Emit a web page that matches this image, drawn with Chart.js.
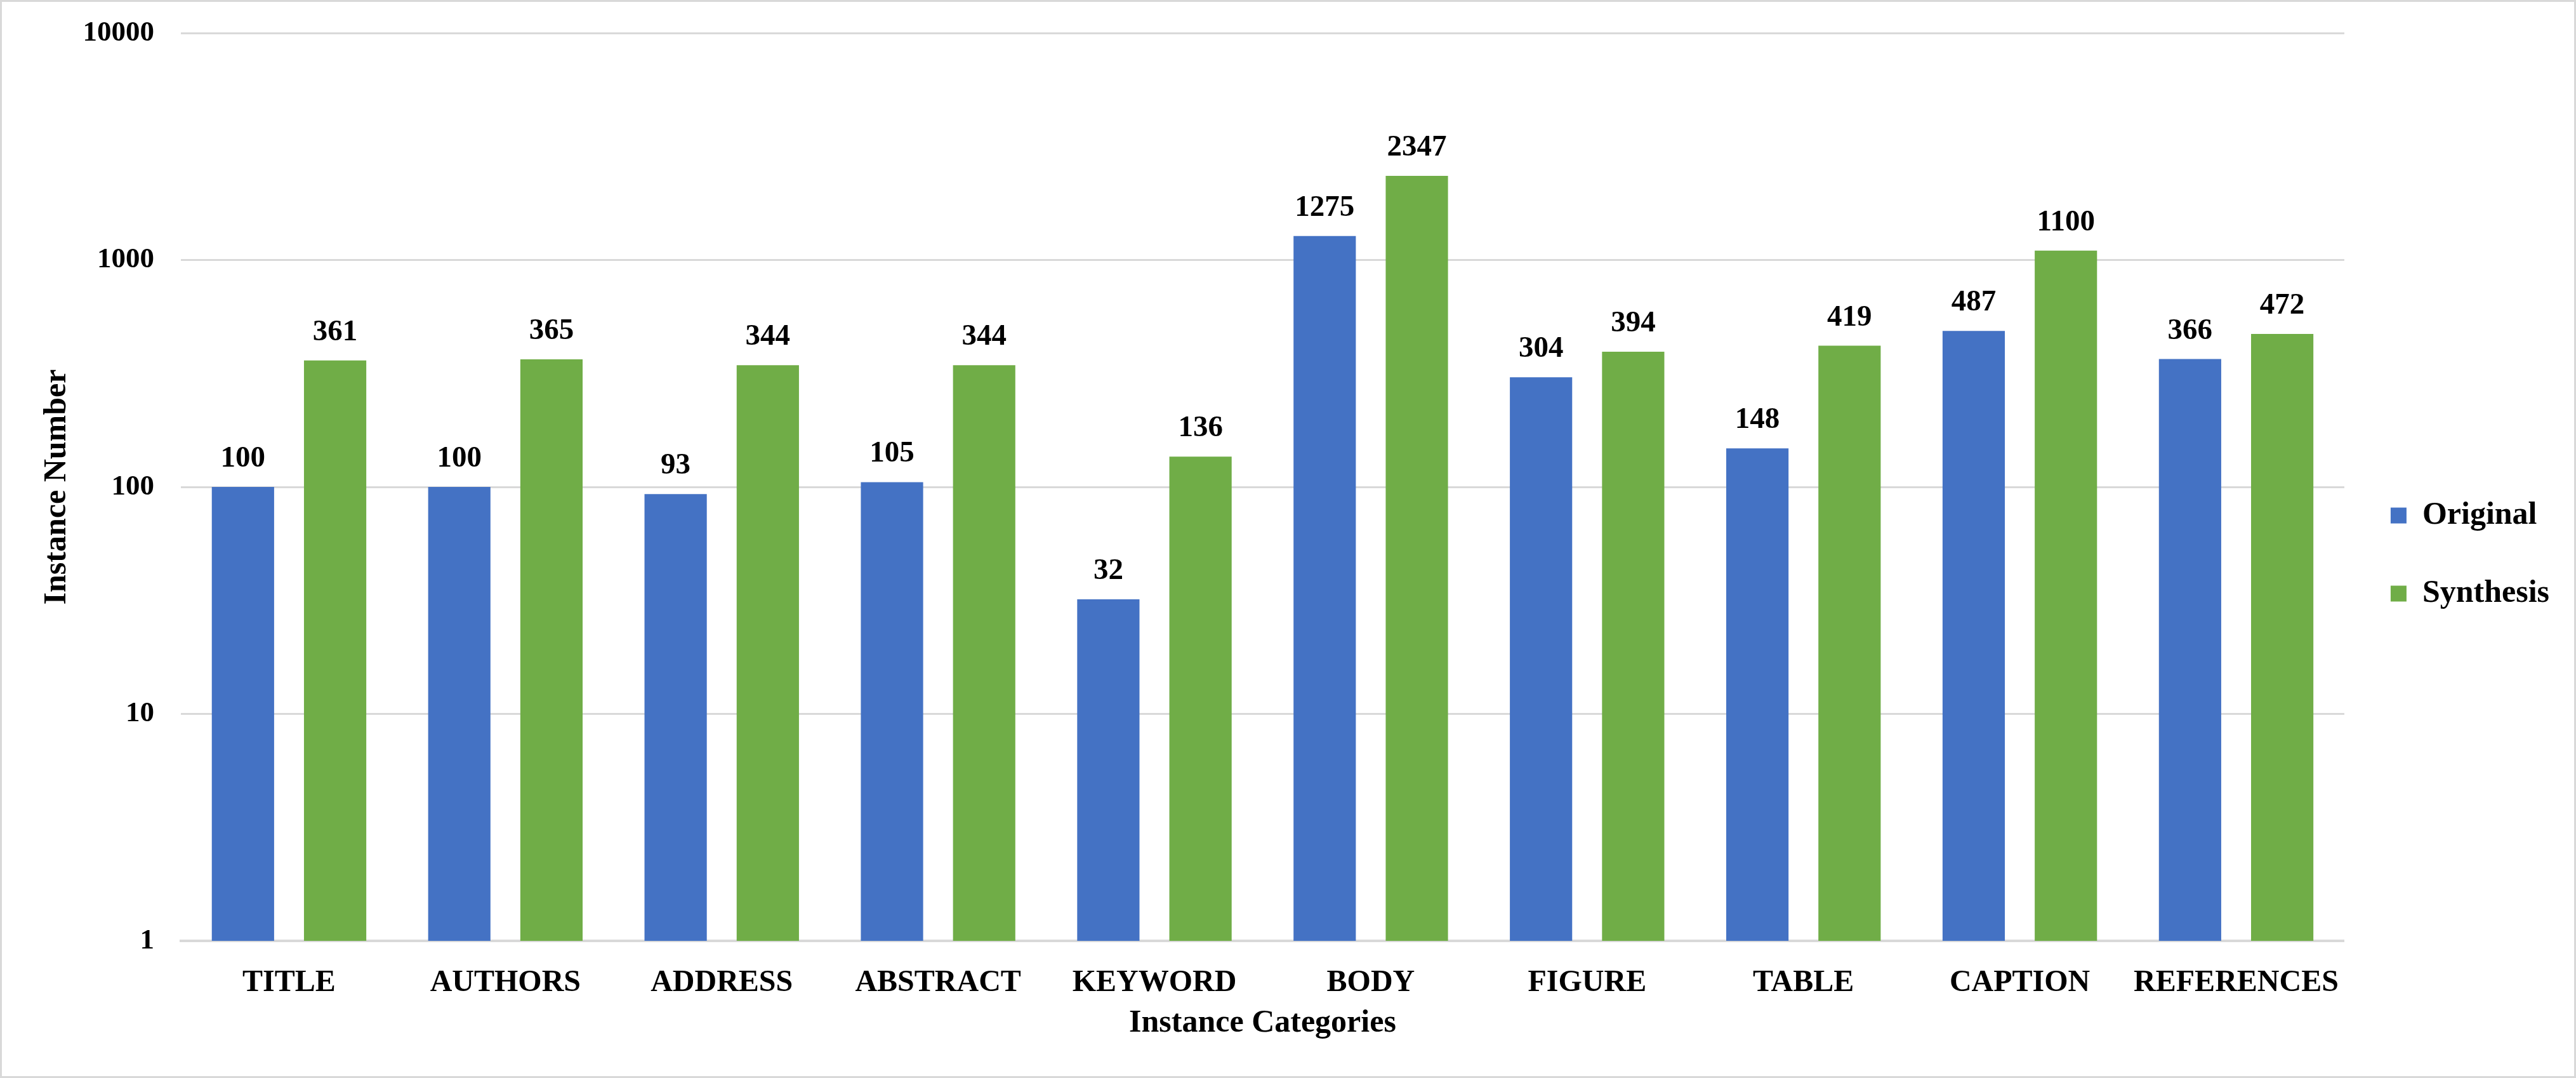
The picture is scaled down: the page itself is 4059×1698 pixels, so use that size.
<!DOCTYPE html>
<html>
<head>
<meta charset="utf-8">
<script src="https://cdn.jsdelivr.net/npm/chart.js@4.4.1/dist/chart.umd.min.js"></script>
<style>
  html, body { margin: 0; padding: 0; background: #fff; }
  #wrap {
    width: 4059px; height: 1698px;
    box-sizing: border-box;
    border: 3px solid #d9d9d9;
    position: relative;
  }
</style>
</head>
<body>
<div id="wrap"><canvas id="myCanvas"></canvas></div>
<script>
const categories = ['TITLE', 'AUTHORS', 'ADDRESS', 'ABSTRACT', 'KEYWORD', 'BODY', 'FIGURE', 'TABLE', 'CAPTION', 'REFERENCES'];
const original = [100, 100, 93, 105, 32, 1275, 304, 148, 487, 366];
const synthesis = [361, 365, 344, 344, 136, 2347, 394, 419, 1100, 472];
const yTicks = [1, 10, 100, 1000, 10000];

const serif = '"Liberation Serif", "Times New Roman", serif';

// value labels above each bar
const barLabels = {
    id: 'barLabels',
    afterDatasetsDraw(chart) {
        const ctx = chart.ctx;
        ctx.save();
        ctx.font = 'bold 47px ' + serif;
        ctx.fillStyle = '#000';
        ctx.textAlign = 'center';
        ctx.textBaseline = 'alphabetic';
        chart.data.datasets.forEach((ds, i) => {
            chart.getDatasetMeta(i).data.forEach((bar, j) => {
                ctx.fillText(String(ds.data[j]), bar.x, bar.y - 32);
            });
        });
        ctx.restore();
    }
};

new Chart(document.getElementById('myCanvas'), {
    type: 'bar',
    data: {
        labels: categories,
        datasets: [
            { label: 'Original', data: original, backgroundColor: '#4472C4' },
            { label: 'Synthesis', data: synthesis, backgroundColor: '#70AD47' }
        ]
    },
    options: {
        responsive: true,
        maintainAspectRatio: false,
        animation: false,
        categoryPercentage: 0.852,
        barPercentage: 0.676,
        layout: { padding: { top: 31, bottom: 10, left: 5, right: 29 } },
        scales: {
            x: {
                grid: { display: false },
                border: { display: true, color: '#d9d9d9', width: 4 },
                ticks: { color: '#000', padding: 30, font: { family: serif, size: 48, weight: 'bold' } },
                title: {
                    display: true, text: 'Instance Categories', color: '#000',
                    padding: { top: 12, bottom: 43 },
                    font: { family: serif, size: 50, weight: 'bold' }
                },
                afterFit: scale => { scale.height = 203; }
            },
            y: {
                type: 'logarithmic',
                min: 1,
                max: 10000,
                afterBuildTicks: scale => { scale.ticks = yTicks.map(v => ({ value: v })); },
                grid: { color: '#d9d9d9', lineWidth: 3, drawTicks: false },
                border: { display: false },
                ticks: {
                    color: '#000', padding: 42,
                    font: { family: serif, size: 45, weight: 'bold' },
                    callback: v => String(v)
                },
                title: {
                    display: true, text: 'Instance Number', color: '#000',
                    padding: { top: 52, bottom: 10 },
                    font: { family: serif, size: 50, weight: 'bold' }
                },
                afterFit: scale => {
                    scale.width = 277;
                    scale.paddingTop = 49;
                }
            }
        },
        plugins: {
            legend: {
                position: 'right',
                title: { display: true, text: '', padding: 8, font: { size: 10 } },
                labels: {
                    color: '#000',
                    boxWidth: 25,
                    boxHeight: 25,
                    padding: 73,
                    font: { family: serif, size: 50, weight: 'bold' }
                }
            },
            tooltip: { enabled: false }
        }
    },
    plugins: [barLabels]
});
</script>
</body>
</html>
